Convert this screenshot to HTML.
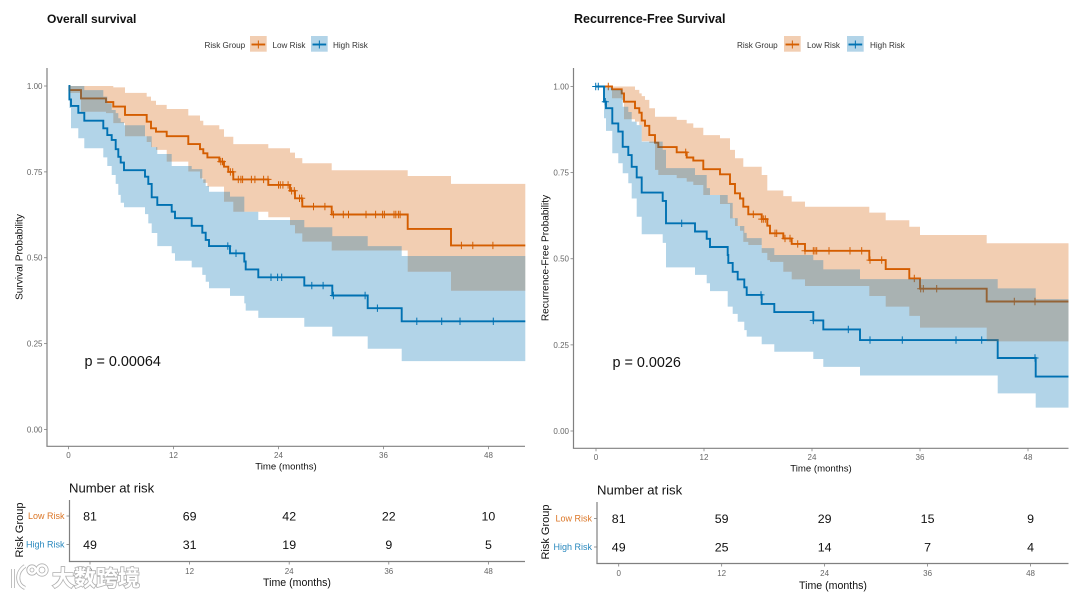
<!DOCTYPE html>
<html lang="en">
<head>
<meta charset="utf-8">
<title>Survival curves by risk group</title>
<style>
html,body{margin:0;padding:0;background:#fff;}
svg{display:block;filter:blur(0.3px);}
text{font-family:"Liberation Sans","Noto Sans CJK SC",sans-serif;}
.ttl{font-size:12px;font-weight:bold;fill:#111;}
.leg{font-size:8.15px;fill:#333;}
.ytk{font-size:8px;fill:#666;text-anchor:end;}
.xtk{font-size:8px;fill:#666;text-anchor:middle;}
.axt{font-size:9.6px;fill:#111;text-anchor:middle;}
.ayt{font-size:10.1px;fill:#111;text-anchor:middle;}
.tbt{font-size:10.6px;fill:#111;text-anchor:middle;}
.pv{font-size:14.4px;fill:#111;}
.nar{font-size:13.1px;fill:#111;}
.num{font-size:12.4px;fill:#111;text-anchor:middle;}
.rlab{font-size:9px;text-anchor:end;}
.rg{font-size:11px;fill:#111;text-anchor:middle;}
.wm{font-size:22px;font-family:"Noto Sans CJK SC",sans-serif;fill:#fff;stroke:#b0b0b0;stroke-width:1.6px;paint-order:stroke;font-weight:bold;}
</style>
</head>
<body>
<svg id="chart" xmlns="http://www.w3.org/2000/svg" width="1080" height="597" viewBox="0 0 1080 597">
  <rect x="0" y="0" width="1080" height="597" fill="#fff"/>

  <text class="ttl" x="47" y="23">Overall survival</text>
  <text class="ttl" x="574" y="23" style="font-size:12.5px">Recurrence-Free Survival</text>

  <text class="leg" x="204.5" y="48">Risk Group</text>
  <text class="leg" x="272.5" y="48">Low Risk</text>
  <text class="leg" x="333" y="48">High Risk</text>
  <text class="leg" x="737" y="48">Risk Group</text>
  <text class="leg" x="807" y="48">Low Risk</text>
  <text class="leg" x="870" y="48">High Risk</text>

  <text class="ayt" transform="translate(22.5,257) rotate(-90)">Survival Probability</text>
  <text class="ayt" transform="translate(548.5,258) rotate(-90)">Recurrence-Free Probability</text>
  <text class="axt" x="286" y="469.5">Time (months)</text>
  <text class="axt" x="821" y="471.5">Time (months)</text>

  <text class="pv" x="84.5" y="366">p = 0.00064</text>
  <text class="pv" x="612.5" y="367">p = 0.0026</text>

  <text class="nar" x="69" y="492.5">Number at risk</text>
  <text class="nar" x="597" y="494.5">Number at risk</text>
  <text class="rg" transform="translate(23,530) rotate(-90)">Risk Group</text>
  <text class="rg" transform="translate(549,532) rotate(-90)">Risk Group</text>
  <text class="tbt" x="297" y="585.8">Time (months)</text>
  <text class="tbt" x="833" y="588.8">Time (months)</text>

  <g id="plots"></g>

  <g>
    <g fill="none" stroke="#b0b0b0" stroke-width="4">
      <path d="M13 569 L13 588 M25 566 C16 572 16 584 25 588"/>
      <circle cx="32" cy="570" r="3.6"/><circle cx="42" cy="570" r="4.6"/>
    </g>
    <g fill="none" stroke="#fff" stroke-width="2.4">
      <path d="M13 569 L13 588 M25 566 C16 572 16 584 25 588"/>
      <circle cx="32" cy="570" r="3.6"/><circle cx="42" cy="570" r="4.6"/>
    </g>
    <text class="wm" x="52" y="586">大数跨境</text>
  </g>
</svg>

<script>
// Overall survival: low-risk group
const osLowTime  = [0,0.1,1.43,4.29,5.12,6.46,8.94,9.43,10,11.22,13.69,15.03,15.41,15.87,17.23,17.77,18.26,18.83,22.83,25.31,25.89,26.72,30.08,38.77,43.71];
const osLowSurv  = [1,0.988,0.964,0.953,0.94,0.916,0.896,0.877,0.867,0.854,0.831,0.816,0.804,0.792,0.78,0.765,0.75,0.728,0.712,0.695,0.673,0.649,0.626,0.584,0.536];
const osLowUpper = [1,1,1,1,0.996,0.98,0.969,0.957,0.945,0.933,0.914,0.899,0.886,0.886,0.874,0.852,0.852,0.831,0.819,0.806,0.79,0.775,0.755,0.738,0.715];
const osLowLower = [1,0.98,0.925,0.921,0.892,0.854,0.837,0.822,0.814,0.78,0.751,0.731,0.718,0.707,0.707,0.663,0.663,0.634,0.618,0.595,0.571,0.547,0.521,0.459,0.404];
const osLowCensor = [17.4,17.6,18.5,18.77,19.4,19.7,19.9,20.9,21.3,22.3,22.8,24,24.2,24.5,25.1,25.5,25.8,26.4,26.65,28,29.3,30.27,31.4,32,34,35.1,35.9,36.1,37.2,37.4,37.7,37.9,44.9,46.2,48.5];

// Overall survival: high-risk group
const osHighTime  = [0,0.1,0.29,1.12,1.81,3.98,4.43,4.94,5.39,5.69,5.97,6.34,8.74,9.12,9.51,10.15,11.79,12.17,14.08,15.29,15.68,16.06,18.46,20.09,20.25,21.69,26.95,30.15,34.19,38.08];
const osHighSurv  = [1,0.961,0.942,0.922,0.899,0.877,0.857,0.843,0.816,0.794,0.777,0.755,0.736,0.715,0.676,0.654,0.634,0.615,0.593,0.573,0.552,0.534,0.513,0.489,0.466,0.443,0.419,0.39,0.353,0.315];
const osHighUpper = [1,1,1,1,0.988,0.969,0.95,0.93,0.921,0.906,0.895,0.886,0.854,0.854,0.822,0.802,0.767,0.767,0.758,0.728,0.709,0.692,0.678,0.634,0.634,0.61,0.589,0.563,0.534,0.505];
const osHighLower = [1,0.936,0.877,0.848,0.819,0.792,0.767,0.741,0.715,0.683,0.66,0.647,0.627,0.6,0.572,0.534,0.513,0.491,0.472,0.45,0.43,0.411,0.389,0.367,0.346,0.325,0.299,0.271,0.235,0.199];
const osHighCensor = [18.2,19.14,23.14,23.9,24.37,27.8,29.1,30.27,33.9,35.3,39.8,42.65,44.74,48.55];

// Recurrence-free survival: low-risk group
const rfsLowTime  = [0,1.78,2.86,3.11,4.33,4.81,5.08,5.44,5.92,6.56,6.92,8.97,10.08,10.81,11.92,13.78,14.89,15.44,16,16.37,16.92,18.41,19.03,19.33,20.81,21.74,23.22,30.37,32.19,34.81,36,43.41];
const rfsLowSurv  = [1,0.992,0.98,0.956,0.937,0.924,0.901,0.886,0.859,0.837,0.824,0.809,0.794,0.785,0.76,0.745,0.717,0.69,0.675,0.651,0.629,0.615,0.596,0.574,0.559,0.543,0.523,0.496,0.47,0.443,0.413,0.376];
const rfsLowUpper = [1,1,1,1,0.99,0.98,0.972,0.961,0.937,0.912,0.912,0.903,0.893,0.88,0.859,0.85,0.816,0.792,0.792,0.767,0.767,0.743,0.698,0.698,0.682,0.666,0.651,0.634,0.612,0.593,0.569,0.545];
const rfsLowLower = [1,0.966,0.961,0.905,0.898,0.888,0.841,0.841,0.836,0.758,0.743,0.734,0.724,0.714,0.685,0.659,0.617,0.595,0.581,0.549,0.54,0.517,0.496,0.491,0.462,0.44,0.421,0.392,0.361,0.334,0.3,0.26];
const rfsLowCensor = [1.37,9.97,17.48,18.41,18.59,18.81,19.89,20.08,21,21.56,22.41,23.22,24.14,24.33,24.52,25.89,28.22,29.52,30.44,31.74,35.37,36.08,36.37,37.86,46.48,48.78];

// Recurrence-free survival: high-risk group
const rfsHighTime  = [0,0.89,1.11,1.81,2.48,2.97,3.59,3.97,4.52,5.08,7.41,7.78,11,12.3,12.67,14.63,14.7,15.19,15.74,16.48,16.74,18.41,19.81,24.14,25.26,29.33,44.63,48.86];
const rfsHighSurv  = [1,0.956,0.937,0.893,0.869,0.825,0.801,0.767,0.736,0.692,0.668,0.603,0.579,0.558,0.534,0.511,0.488,0.462,0.44,0.417,0.395,0.369,0.345,0.321,0.295,0.264,0.212,0.158];
const rfsHighUpper = [1,1,0.996,0.99,0.99,0.941,0.926,0.898,0.888,0.84,0.816,0.763,0.743,0.705,0.685,0.662,0.662,0.618,0.595,0.575,0.56,0.531,0.511,0.496,0.469,0.441,0.414,0.383];
const rfsHighLower = [1,0.908,0.871,0.806,0.777,0.748,0.719,0.675,0.622,0.571,0.546,0.475,0.453,0.429,0.406,0.361,0.361,0.34,0.317,0.293,0.274,0.252,0.23,0.209,0.186,0.161,0.109,0.068];
const rfsHighCensor = [-0.03,0.26,1.03,9.52,18.33,24.14,28.03,30.44,34.03,40,42.86,48.78];

// Axis labels and risk tables
const yTickValues = [0,0.25,0.5,0.75,1];
const yTickLabels = ['0.00','0.25','0.50','0.75','1.00'];
const xTickMonths = [0,12,24,36,48];
const riskGroups  = ['Low Risk','High Risk'];
const osRiskLow   = [81,69,42,22,10];
const osRiskHigh  = [49,31,19,9,5];
const rfsRiskLow  = [81,59,29,15,9];
const rfsRiskHigh = [49,25,14,7,4];

const NS = 'http://www.w3.org/2000/svg';
const plots = document.getElementById('plots');
const ORANGE = '#D55E00';
const BLUE = '#0072B2';

function mk(tag, attrs, parent, txt) {
  const el = document.createElementNS(NS, tag);
  for (const k in attrs) el.setAttribute(k, attrs[k]);
  if (txt !== undefined) el.textContent = txt;
  (parent || plots).appendChild(el);
  return el;
}
function stepPath(times, vals, xf, yf, tEnd) {
  let d = 'M' + xf(times[0]).toFixed(1) + ' ' + yf(vals[0]).toFixed(1);
  for (let i = 1; i < times.length; i++) {
    d += 'H' + xf(times[i]).toFixed(1) + 'V' + yf(vals[i]).toFixed(1);
  }
  return d + 'H' + xf(tEnd).toFixed(1);
}
function ribbonPath(times, up, lo, xf, yf, tEnd) {
  let d = stepPath(times, up, xf, yf, tEnd);
  d += 'V' + yf(lo[lo.length - 1]).toFixed(1);
  for (let i = lo.length - 1; i > 0; i--) {
    d += 'H' + xf(times[i]).toFixed(1) + 'V' + yf(lo[i - 1]).toFixed(1);
  }
  return d + 'H' + xf(times[0]).toFixed(1) + 'Z';
}
function survAt(times, vals, t) {
  let s = vals[0];
  for (let i = 0; i < times.length; i++) if (times[i] <= t) s = vals[i];
  return s;
}
function drawSeries(prefix, group, color, times, surv, censor, xf, yf, tEnd) {
  const line = mk('path', {d: stepPath(times, surv, xf, yf, tEnd), fill: 'none', stroke: color, 'stroke-width': 1.9});
  
  
  censor.forEach(function (t) {
    const cx = xf(t), cy = yf(survAt(times, surv, t));
    const m = mk('path', {d: 'M' + (cx - 3.5).toFixed(1) + ' ' + cy.toFixed(1) + 'h7M' + cx.toFixed(1) + ' ' + (cy - 3.7).toFixed(1) + 'v7.4', fill: 'none', stroke: color, 'stroke-width': 1});
    
    
  });
}
function drawRibbon(prefix, group, color, times, up, lo, xf, yf, tEnd) {
  const r = mk('path', {d: ribbonPath(times, up, lo, xf, yf, tEnd), fill: color, 'fill-opacity': 0.3, stroke: 'none'});
  
  
}
function drawAxes(prefix, left, right, top, bottom, xf, yf, xTickY) {
  const ya = mk('path', {d: 'M' + left + ' ' + top + 'V' + bottom, stroke: '#808080', 'stroke-width': 1.2, fill: 'none'});
  
  
  const xa = mk('path', {d: 'M' + (left - 0.6) + ' ' + bottom + 'H' + right, stroke: '#808080', 'stroke-width': 1.2, fill: 'none'});
  
  
  yTickValues.forEach(function (v, i) {
    const yy = yf(v);
    const tk = mk('path', {d: 'M' + (left - 3) + ' ' + yy + 'H' + left, stroke: '#808080', 'stroke-width': 0.8});
    
    
    const lb = mk('text', {class: 'ytk', x: left - 4.5, y: yy + 2.9}, plots, yTickLabels[i]);
    
    
  });
  xTickMonths.forEach(function (m) {
    const xx = xf(m);
    const tk = mk('path', {d: 'M' + xx + ' ' + bottom + 'V' + (bottom + 3), stroke: '#808080', 'stroke-width': 0.8});
    
    
    const lb = mk('text', {class: 'xtk', x: xx, y: xTickY}, plots, String(m));
    
    
  });
}
function drawRiskTable(prefix, left, right, top, bottom, rowLow, rowHigh, tx, low, high, tickY) {
  const ya = mk('path', {d: 'M' + left + ' ' + top + 'V' + bottom, stroke: '#808080', 'stroke-width': 1.2, fill: 'none'});
  
  
  const xa = mk('path', {d: 'M' + (left - 0.6) + ' ' + bottom + 'H' + right, stroke: '#808080', 'stroke-width': 1.2, fill: 'none'});
  
  
  [[rowLow, riskGroups[0], ORANGE, low], [rowHigh, riskGroups[1], BLUE, high]].forEach(function (row) {
    const tk = mk('path', {d: 'M' + (left - 3) + ' ' + row[0] + 'H' + left, stroke: '#808080', 'stroke-width': 0.8});
    
    
    const lb = mk('text', {class: 'rlab', x: left - 5, y: row[0] + 3.2, fill: row[2], 'fill-opacity': 0.85}, plots, row[1]);
    
    
    row[3].forEach(function (n, i) {
      const c = mk('text', {class: 'num', x: tx(xTickMonths[i]), y: row[0] + 4.4}, plots, String(n));
      
      
    });
  });
  xTickMonths.forEach(function (m) {
    const tk = mk('path', {d: 'M' + tx(m) + ' ' + bottom + 'V' + (bottom + 3), stroke: '#808080', 'stroke-width': 0.8});
    
    
    const lb = mk('text', {class: 'xtk', x: tx(m), y: tickY}, plots, String(m));
    
    
  });
}
function drawLegendKey(prefix, group, color, x, y) {
  const bg = mk('rect', {x: x, y: y, width: 16.7, height: 15.7, fill: color, 'fill-opacity': 0.3});
  
  
  const ln = mk('path', {d: 'M' + (x + 1.5) + ' ' + (y + 8.5) + 'h13.7', stroke: color, 'stroke-width': 1.9, fill: 'none'});
  
  
  const pl = mk('path', {d: 'M' + (x + 8.35) + ' ' + (y + 4.5) + 'v8', stroke: color, 'stroke-width': 1, fill: 'none'});
  
  
}

// Overall survival panel
const osX = function (t) { return 68.5 + 8.75 * t; };
const osY = function (s) { return 429.5 - 343.5 * s; };
const osEnd = 52.2;
drawSeries('os', 'low-risk', ORANGE, osLowTime, osLowSurv, osLowCensor, osX, osY, osEnd);
drawSeries('os', 'high-risk', BLUE, osHighTime, osHighSurv, osHighCensor, osX, osY, osEnd);
drawRibbon('os', 'low-risk', ORANGE, osLowTime, osLowUpper, osLowLower, osX, osY, osEnd);
drawRibbon('os', 'high-risk', BLUE, osHighTime, osHighUpper, osHighLower, osX, osY, osEnd);
drawAxes('os', 47, 525, 68, 446.3, osX, osY, 458);
drawLegendKey('os', 'low-risk', ORANGE, 250, 36);
drawLegendKey('os', 'high-risk', BLUE, 311, 36);

// Recurrence-free survival panel
const rfsX = function (t) { return 596 + 9 * t; };
const rfsY = function (s) { return 431 - 344.5 * s; };
const rfsEnd = 52.5;
drawSeries('rfs', 'low-risk', ORANGE, rfsLowTime, rfsLowSurv, rfsLowCensor, rfsX, rfsY, rfsEnd);
drawSeries('rfs', 'high-risk', BLUE, rfsHighTime, rfsHighSurv, rfsHighCensor, rfsX, rfsY, rfsEnd);
drawRibbon('rfs', 'low-risk', ORANGE, rfsLowTime, rfsLowUpper, rfsLowLower, rfsX, rfsY, rfsEnd);
drawRibbon('rfs', 'high-risk', BLUE, rfsHighTime, rfsHighUpper, rfsHighLower, rfsX, rfsY, rfsEnd);
drawAxes('rfs', 573.5, 1068.5, 68, 448.3, rfsX, rfsY, 460);
drawLegendKey('rfs', 'low-risk', ORANGE, 784, 36);
drawLegendKey('rfs', 'high-risk', BLUE, 847, 36);

// Risk tables
const osTableX = function (t) { return 90 + 8.3 * t; };
const rfsTableX = function (t) { return 618.7 + 8.58 * t; };
drawRiskTable('os', 69.5, 525, 500, 561.5, 516, 544.5, osTableX, osRiskLow, osRiskHigh, 574);
drawRiskTable('rfs', 597, 1068.5, 502, 563.5, 518.5, 547, rfsTableX, rfsRiskLow, rfsRiskHigh, 576);
</script>
</body>
</html>
